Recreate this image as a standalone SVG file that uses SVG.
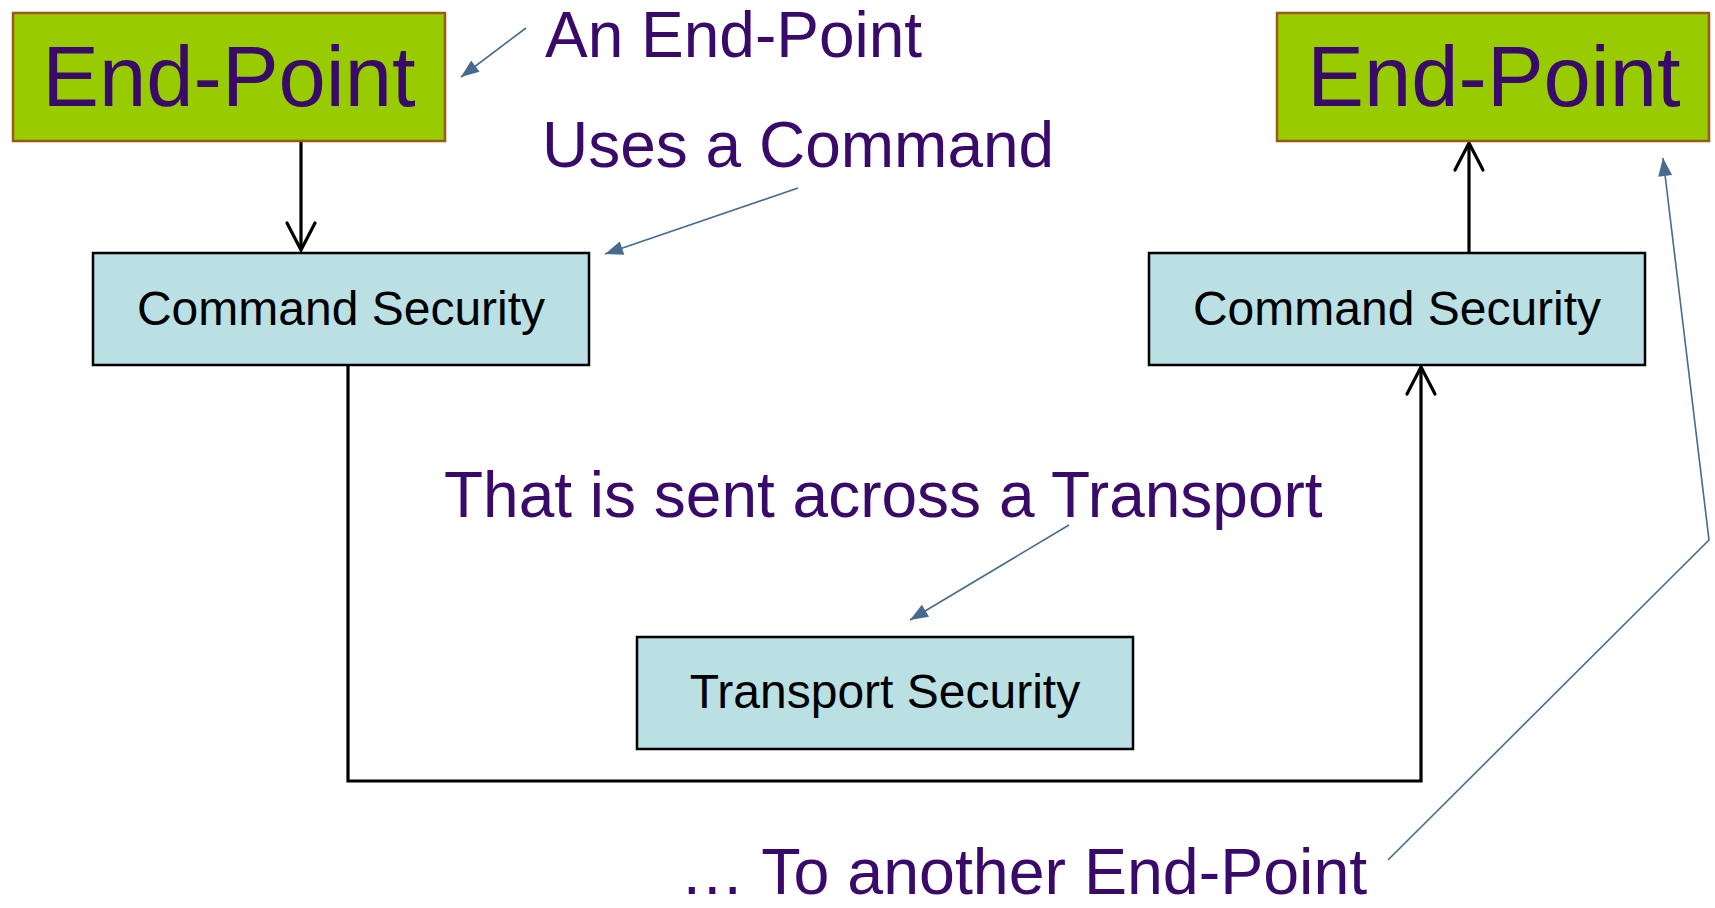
<svg xmlns="http://www.w3.org/2000/svg" width="1715" height="908" viewBox="0 0 1715 908">
<style>
.ep{fill:#99cc00;stroke:#9a5a14;stroke-width:2.5}
.cs{fill:#bae0e3;stroke:#000;stroke-width:2.5}
.ept{font-family:"Liberation Sans",Arial,sans-serif;font-size:85px;fill:#3a0a6a;text-anchor:middle}
.cst{font-family:"Liberation Sans",Arial,sans-serif;font-size:48px;fill:#000;text-anchor:middle}
.note{font-family:"Liberation Sans",Arial,sans-serif;font-size:64px;fill:#3a0a6a}
.conn{fill:none;stroke:#000;stroke-width:3.2}
.call{fill:none;stroke:#456b8f;stroke-width:1.6}
</style>
<defs>
<marker id="open" markerUnits="userSpaceOnUse" markerWidth="36" markerHeight="36" viewBox="-32 -18 36 36" refX="0" refY="0" orient="auto">
<path d="M-27,-14 L0,0 L-27,14" fill="none" stroke="#000" stroke-width="3.2" stroke-linecap="round" stroke-linejoin="miter"/>
</marker>
<marker id="tri" markerUnits="userSpaceOnUse" markerWidth="24" markerHeight="18" viewBox="-20 -9 24 18" refX="0" refY="0" orient="auto">
<path d="M-18,-7 L0,0 L-18,7 Z" fill="#456b8f"/>
</marker>
</defs>
<g id="connectors">
<line class="conn" x1="301" y1="141" x2="301" y2="250" marker-end="url(#open)"/>
<polyline class="conn" points="348,365 348,781 1421,781 1421,367" marker-end="url(#open)"/>
<line class="conn" x1="1469" y1="253" x2="1469" y2="143" marker-end="url(#open)"/>
<line class="call" x1="526" y1="28" x2="461" y2="77" marker-end="url(#tri)"/>
<line class="call" x1="798" y1="188" x2="605" y2="254" marker-end="url(#tri)"/>
<line class="call" x1="1069" y1="525" x2="910" y2="620" marker-end="url(#tri)"/>
<polyline class="call" points="1388,860 1709,540 1663,158" marker-end="url(#tri)"/>
</g>
<g id="endpoint-left">
<rect class="ep" x="13" y="13" width="432" height="128"/>
<text class="ept" x="229" y="106">End-Point</text>
</g>
<g id="endpoint-right">
<rect class="ep" x="1277" y="13" width="432" height="128"/>
<text class="ept" x="1494" y="106">End-Point</text>
</g>
<g id="command-left">
<rect class="cs" x="93" y="253" width="496" height="112"/>
<text class="cst" x="341" y="325">Command Security</text>
</g>
<g id="command-right">
<rect class="cs" x="1149" y="253" width="496" height="112"/>
<text class="cst" x="1397" y="325">Command Security</text>
</g>
<g id="transport">
<rect class="cs" x="637" y="637" width="496" height="112"/>
<text class="cst" x="885" y="708">Transport Security</text>
</g>
<g id="notes">
<text class="note" x="545" y="57">An End-Point</text>
<text class="note" x="542" y="167">Uses a Command</text>
<text class="note" x="444" y="517">That is sent across a Transport</text>
<text class="note" x="680" y="894" style="font-size:64.5px">… To another End-Point</text>
</g>
</svg>
